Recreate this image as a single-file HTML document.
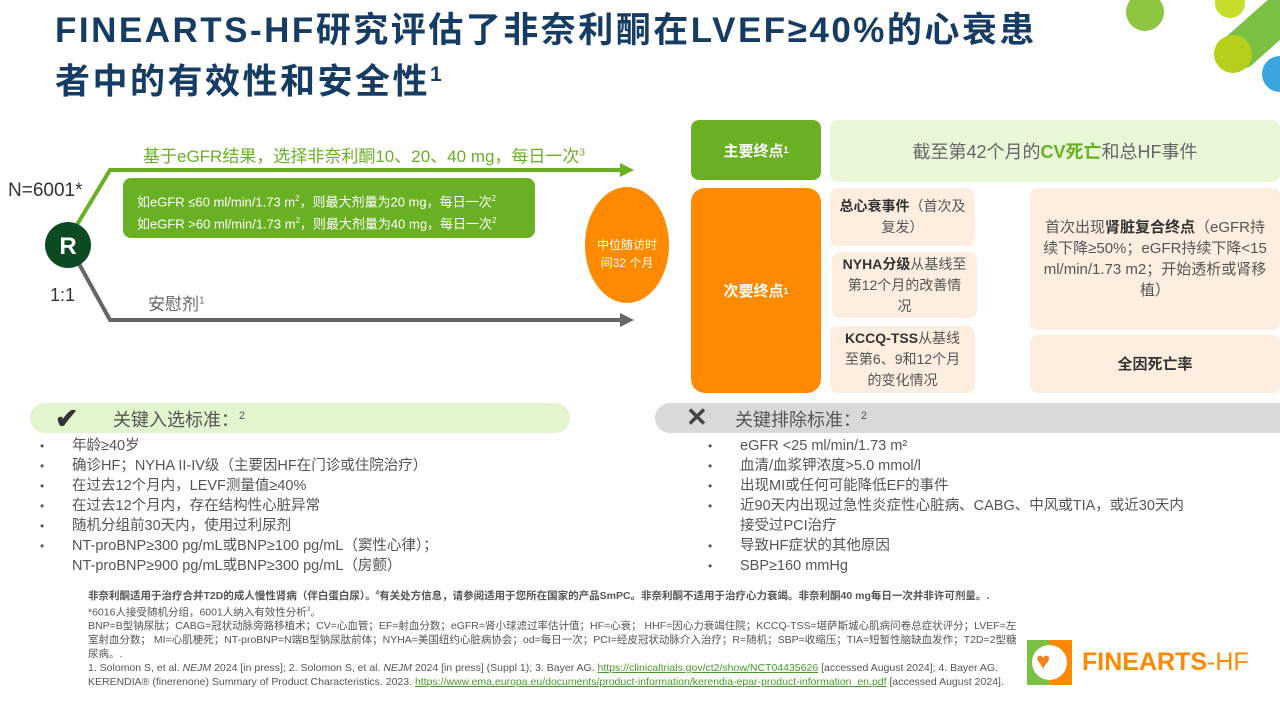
<!DOCTYPE html>
<html><head><meta charset="utf-8"><style>
*{margin:0;padding:0;box-sizing:border-box}
body{width:1280px;height:705px;position:relative;overflow:hidden;background:#fff;font-family:"Liberation Sans","Noto Sans CJK SC",sans-serif;color:#444}
.a{position:absolute}
.t{font-weight:bold;color:#173c63;font-size:35px;line-height:44px;left:55px;top:9px;letter-spacing:2.5px}
.box{position:absolute;border-radius:8px;display:flex;align-items:center;justify-content:center;text-align:center}
.pe{background:#fdeedf;color:#555;font-size:15px;line-height:21px;padding:0 6px}
ul{list-style:none}
li{position:relative;font-size:14.5px;line-height:20px;color:#555}
li:before{content:"•";position:absolute;left:-32px;font-size:12px}
.fn{font-size:10.5px;line-height:14px;color:#555;left:88px;width:935px}
sup{font-size:0.6em}
</style></head><body>
<svg class="a" style="left:0;top:0" width="1280" height="705">
<circle cx="1145" cy="12" r="19" fill="#8cc63f"/>
<circle cx="1230" cy="3" r="15" fill="#c8dc2a"/>
<line x1="1240" y1="50" x2="1285" y2="10" stroke="#7ac143" stroke-width="38" stroke-linecap="round"/>
<circle cx="1233" cy="54" r="19" fill="#b5cf1a"/>
<circle cx="1280" cy="74" r="18" fill="#3aa6e0"/>
<polyline points="75,228 110,170 622,170" fill="none" stroke="#6ab023" stroke-width="4"/>
<polygon points="620,163 634,170 620,177" fill="#6ab023"/>
<polyline points="78,262 110,320 622,320" fill="none" stroke="#666" stroke-width="4"/>
<polygon points="620,313 634,320 620,327" fill="#666"/>
<circle cx="68" cy="245" r="23" fill="#0c4a24"/>
<text x="68" y="254" text-anchor="middle" font-size="24" font-weight="bold" fill="#fff" font-family="Liberation Sans">R</text>
<ellipse cx="627" cy="245" rx="42" ry="58" fill="#ff8a00"/>
</svg>
<div class="a t">FINEARTS-HF研究评估了非奈利酮在LVEF≥40%的心衰患<br>者中的有效性和安全性<sup>1</sup></div>
<div class="a" style="left:8px;top:180px;font-size:19px;color:#333">N=6001*</div>
<div class="a" style="left:50px;top:285px;font-size:18px;color:#333">1:1</div>
<div class="a" style="left:143px;top:142px;font-size:17px;color:#6ab023">基于eGFR结果，选择非奈利酮10、20、40 mg，每日一次<sup>3</sup></div>
<div class="a" style="left:148px;top:290px;font-size:17px;color:#666">安慰剂<sup>1</sup></div>
<div class="a" style="left:123px;top:178px;width:412px;height:60px;background:#6ab023;color:#fff;font-size:13px;line-height:19px;padding:11px 0 0 14px;border-radius:8px;white-space:nowrap">如eGFR ≤60 ml/min/1.73 m<sup>2</sup>，则最大剂量为20 mg，每日一次<sup>2</sup><br>如eGFR &gt;60 ml/min/1.73 m<sup>2</sup>，则最大剂量为40 mg，每日一次<sup>2</sup></div>
<div class="a" style="left:592px;top:236px;width:70px;text-align:center;color:#fff;font-size:12px;line-height:18px">中位随访时<br>间32 个月</div>
<div class="box" style="left:691px;top:120px;width:130px;height:60px;background:#6ab023;color:#fff;font-size:15px;font-weight:bold">主要终点<sup>1</sup></div>
<div class="box" style="left:830px;top:120px;width:450px;height:62px;background:#e8f7d8;color:#666;font-size:18px">截至第42个月的<b style="color:#6ab023">CV死亡</b>和总HF事件</div>
<div class="box" style="left:691px;top:188px;width:130px;height:205px;background:#ff8a00;color:#fff;font-size:15px;font-weight:bold;border-radius:14px">次要终点<sup>1</sup></div>
<div class="box pe" style="left:830px;top:188px;width:145px;height:58px;font-size:14px"><span><b style="color:#333">总心衰事件</b>（首次及复发）</span></div>
<div class="box pe" style="left:832px;top:252px;width:145px;height:66px;font-size:14px;padding:0 10px"><span><b style="color:#333">NYHA分级</b>从基线至第12个月的改善情况</span></div>
<div class="box pe" style="left:830px;top:326px;width:145px;height:67px;font-size:14px;padding:0 8px"><span><b style="color:#333">KCCQ-TSS</b>从基线至第6、9和12个月的变化情况</span></div>
<div class="box pe" style="left:1030px;top:188px;width:250px;height:142px;padding:0 10px"><span>首次出现<b style="color:#333">肾脏复合终点</b>（eGFR持续下降≥50%；eGFR持续下降&lt;15 ml/min/1.73 m2；开始透析或肾移植）</span></div>
<div class="box pe" style="left:1030px;top:335px;width:250px;height:58px;font-weight:bold;color:#333">全因死亡率</div>
<div class="a" style="left:30px;top:403px;width:540px;height:30px;background:#e3f5cf;border-radius:15px"></div>
<div class="a" style="left:655px;top:403px;width:625px;height:30px;background:#d9d9d9;border-radius:15px 0 0 15px"></div>
<div class="a" style="left:55px;top:402px;font-size:28px;color:#333;font-weight:bold">✔</div>
<div class="a" style="left:113px;top:406px;font-size:18px;color:#555">关键入选标准：<sup>2</sup></div>
<div class="a" style="left:686px;top:402px;font-size:26px;color:#444;font-weight:bold">✕</div>
<div class="a" style="left:735px;top:406px;font-size:18px;color:#555">关键排除标准：<sup>2</sup></div>
<ul class="a" style="left:72px;top:436px"><li>年龄≥40岁</li><li>确诊HF；NYHA II-IV级（主要因HF在门诊或住院治疗）</li><li>在过去12个月内，LEVF测量值≥40%</li><li>在过去12个月内，存在结构性心脏异常</li><li>随机分组前30天内，使用过利尿剂</li><li>NT-proBNP≥300 pg/mL或BNP≥100 pg/mL（窦性心律）；<br>NT-proBNP≥900 pg/mL或BNP≥300 pg/mL（房颤）</li></ul>
<ul class="a" style="left:740px;top:436px"><li>eGFR &lt;25 ml/min/1.73 m²</li><li>血清/血浆钾浓度&gt;5.0 mmol/l</li><li>出现MI或任何可能降低EF的事件</li><li>近90天内出现过急性炎症性心脏病、CABG、中风或TIA，或近30天内<br>接受过PCI治疗</li><li>导致HF症状的其他原因</li><li>SBP≥160 mmHg</li></ul>
<div class="a fn" style="top:586px"><b>非奈利酮适用于治疗合并T2D的成人慢性肾病（伴白蛋白尿）。<sup>4</sup>有关处方信息，请参阅适用于您所在国家的产品SmPC。非奈利酮不适用于治疗心力衰竭。非奈利酮40 mg每日一次并非许可剂量。.</b><br>*6016人接受随机分组，6001人纳入有效性分析<sup>3</sup>。<br>BNP=B型钠尿肽；CABG=冠状动脉旁路移植术；CV=心血管；EF=射血分数；eGFR=肾小球滤过率估计值；HF=心衰； HHF=因心力衰竭住院；KCCQ-TSS=堪萨斯城心肌病问卷总症状评分；LVEF=左室射血分数； MI=心肌梗死；NT-proBNP=N端B型钠尿肽前体；NYHA=美国纽约心脏病协会；od=每日一次；PCI=经皮冠状动脉介入治疗；R=随机；SBP=收缩压；TIA=短暂性脑缺血发作；T2D=2型糖尿病。.<br>1. Solomon S, et al. <i>NEJM</i> 2024 [in press]; 2. Solomon S, et al. <i>NEJM</i> 2024 [in press] (Suppl 1); 3. Bayer AG. <span style="color:#4a9a2a;text-decoration:underline">https://clinicaltrials.gov/ct2/show/NCT04435626</span> [accessed August 2024]; 4. Bayer AG. KERENDIA® (finerenone) Summary of Product Characteristics. 2023. <span style="color:#4a9a2a;text-decoration:underline">https://www.ema.europa.eu/documents/product-information/kerendia-epar-product-information_en.pdf</span> [accessed August 2024].</div>
<div class="a" style="left:1027px;top:640px;width:45px;height:45px;background:linear-gradient(90deg,#7ac143 50%,#ff8a00 50%)"></div>
<div class="a" style="left:1032px;top:645px;width:35px;height:35px;border-radius:50%;background:#fff"></div>
<div class="a" style="left:1036px;top:648px;font-size:24px;line-height:28px;color:#f58220">♥</div>
<div class="a" style="left:1082px;top:648px;font-size:25px;color:#ff8a00"><b>FINEARTS</b>-HF</div>
</body></html>
